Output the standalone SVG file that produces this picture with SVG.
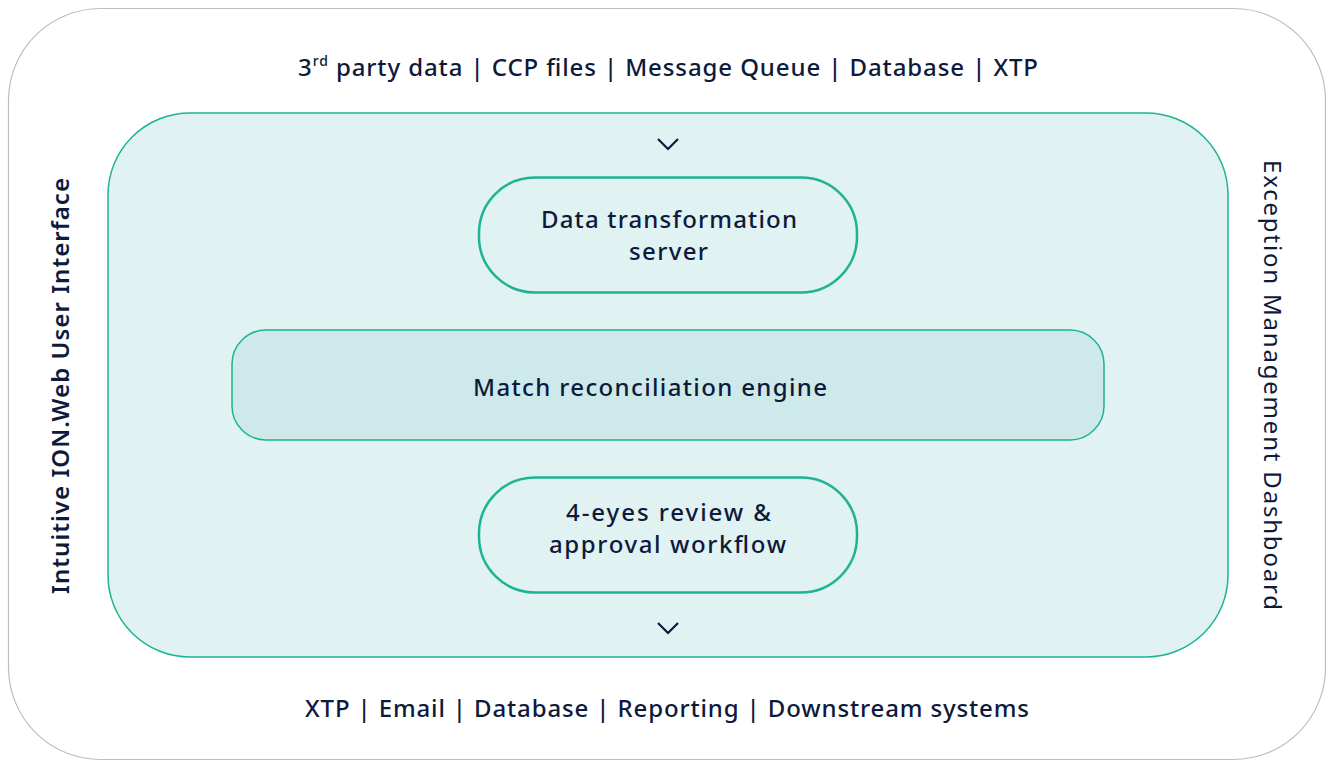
<svg xmlns="http://www.w3.org/2000/svg" width="1328" height="762" viewBox="0 0 1328 762">
<style>
.t{font-family:"Noto Sans","Liberation Sans",sans-serif;fill:#0e1a3b;font-weight:500;font-size:24px;}
.node{fill:#e0f2f2;stroke:#1db394;stroke-width:2.5;}
.chev{fill:none;stroke:#0e1a3b;stroke-width:2.2;}
</style>
<rect width="1328" height="762" fill="#ffffff"/>
<g id="frame">
<rect x="8.5" y="8.5" width="1317" height="751" rx="92" fill="#ffffff" stroke="#bdbdbd" stroke-width="1.2"/>
</g>
<g id="platform">
<rect x="108" y="113" width="1120" height="544" rx="82" fill="#e0f2f2" stroke="#1db394" stroke-width="1.5"/>
</g>
<g id="inputs">
<text class="t" x="298" y="76" textLength="740" lengthAdjust="spacing">3<tspan font-size="14" dy="-10">rd</tspan><tspan dy="10"> party data | CCP files | Message Queue | Database | XTP</tspan></text>
</g>
<g id="outputs">
<text class="t" x="305" y="717" textLength="724" lengthAdjust="spacing">XTP | Email | Database | Reporting | Downstream systems</text>
</g>
<g id="ui">
<text class="t" x="0" y="0" textLength="416" lengthAdjust="spacing" transform="translate(69,594) rotate(-90)" style="font-weight:600">Intuitive ION.Web User Interface</text>
</g>
<g id="dashboard">
<text class="t" x="0" y="0" textLength="450" lengthAdjust="spacing" transform="translate(1264,160) rotate(90)" style="font-weight:400">Exception Management Dashboard</text>
</g>
<g id="dts">
<rect class="node" x="479" y="177.5" width="378" height="115" rx="56"/>
<text class="t" x="541" y="228" textLength="256" lengthAdjust="spacing">Data transformation</text>
<text class="t" x="629" y="260" textLength="79" lengthAdjust="spacing">server</text>
</g>
<g id="engine">
<rect x="232" y="330" width="872" height="110" rx="34" fill="#cde9e9" stroke="#1db394" stroke-width="1.5"/>
<text class="t" x="473" y="396" textLength="354" lengthAdjust="spacing">Match reconciliation engine</text>
</g>
<g id="review">
<rect class="node" x="479" y="477.5" width="378" height="115" rx="56"/>
<text class="t" x="566" y="521" textLength="205" lengthAdjust="spacing">4-eyes review &amp;</text>
<text class="t" x="549" y="553" textLength="237" lengthAdjust="spacing">approval workflow</text>
</g>
<g id="connectors">
<polyline class="chev" points="658,139 668,149 678,139"/>
<polyline class="chev" points="658,623 668,633 678,623"/>
</g>
</svg>
